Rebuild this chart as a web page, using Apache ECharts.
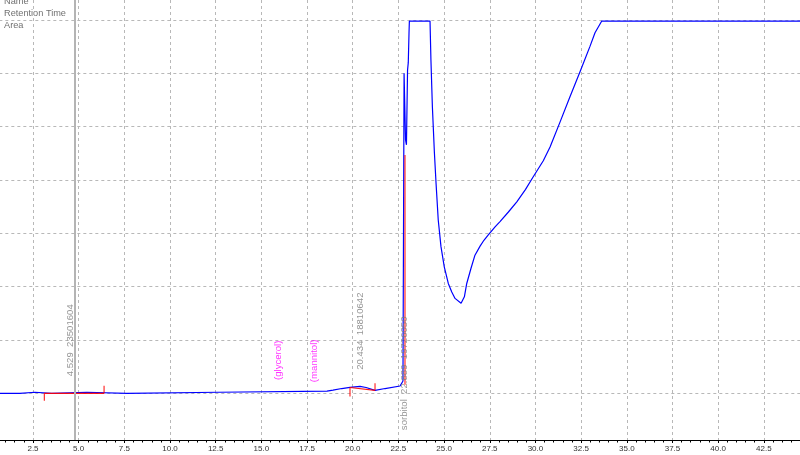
<!DOCTYPE html>
<html><head><meta charset="utf-8">
<script src="https://cdn.jsdelivr.net/npm/echarts@6/dist/echarts.min.js"></script>
<style>html,body{margin:0;padding:0;background:#fff}#c{width:800px;height:455px}</style>
</head><body><div id="c"></div>
<script>
// ---- data ----
const signalTrace = [
  [0.5,0.0],[1.78,0.0],[1.79,0.02],[2.6,0.02],[2.61,0.0],[3.52,0.0],[3.53,0.02],[5.45,0.02],[5.46,0.0],
  [7.63,0.0],[7.64,0.02],[12.67,0.02],[12.68,0.04],[18.59,0.04],[18.92,0.06],[19.4,0.09],[19.85,0.11],
  [20.4,0.13],[20.73,0.11],[21.22,0.056],[21.77,0.09],[22.59,0.137],[22.75,0.23],[22.81,6.0],[22.89,4.75],
  [22.94,4.66],[23.0,6.06],[23.04,6.2],[23.08,6.75],[23.1,6.98],[24.23,6.98],[24.28,6.25],[24.36,5.37],
  [24.47,4.51],[24.56,3.94],[24.68,3.25],[24.83,2.75],[25.01,2.37],[25.23,2.06],[25.42,1.9],[25.6,1.78],
  [25.93,1.69],[26.11,1.81],[26.24,2.06],[26.47,2.34],[26.69,2.59],[26.97,2.76],[27.18,2.87],[27.42,2.97],
  [27.79,3.12],[28.06,3.22],[28.52,3.4],[28.98,3.59],[29.45,3.82],[29.88,4.06],[30.43,4.36],[30.8,4.62],
  [31.35,5.09],[31.89,5.56],[32.44,6.03],[32.99,6.51],[33.26,6.76],[33.63,6.98],[45,6.98]
];
const integrationSegments = [
  [[3.12,0.0],[3.12,-0.14]],
  [[3.12,0.0],[6.39,0.0]],
  [[6.39,0.0],[6.39,0.14]],
  [[19.85,-0.06],[19.85,0.11]],
  [[19.85,0.11],[21.22,0.056]],
  [[21.22,0.056],[21.22,0.19]],
  [[22.86,0.16],[22.86,4.47]]
];
const labelTimes   = [4.525, 20.43, 22.82, 15.91, 17.88];
const labelAnchors = [0.32, 0.44, -0.69, 0.25, 0.21];
const labelTexts   = ['4.529  23501604', '20.434  18810642', 'sorbitol  22.889  19726050', '(glycerol)', '(mannitol)'];
const labelKinds   = ['found', 'found', 'found', 'expected', 'expected'];
const cursorTime   = [4.8];
const yGridValues  = [0, 1, 2, 3, 4, 5, 6, 7];
const headerLines  = ['Name', 'Retention Time', 'Area'];

// ---- chart ----
const FONT = '"Liberation Sans", Arial, sans-serif';
const gridStyle = { color: '#b8b8b8', type: [3, 3], width: 1 };
const chart = echarts.init(document.getElementById('c'), null, { renderer: 'canvas' });

const series = [{
  type: 'line', data: signalTrace, showSymbol: false, animation: false, z: 3,
  lineStyle: { color: '#0000ff', width: 1.2 }, silent: true,
  markLine: {
    silent: true, symbol: 'none', animation: false,
    label: { show: false },
    lineStyle: { color: '#b4b4b4', width: 2, type: 'solid' },
    data: cursorTime.map(t => ({ xAxis: t }))
  }
}];
integrationSegments.forEach(seg => series.push({
  type: 'line', data: seg, showSymbol: false, animation: false, z: 4, silent: true,
  lineStyle: { color: '#ff0000', width: 1.1, opacity: 0.9 }
}));
series.push({
  type: 'scatter', symbolSize: 0, animation: false, z: 5, silent: true,
  data: labelTimes.map((t, i) => ({
    value: [t, labelAnchors[i]],
    label: {
      formatter: labelTexts[i],
      color: labelKinds[i] === 'expected' ? '#ff00ff' : '#7a7a7a'
    }
  })),
  label: {
    show: true, position: 'inside', rotate: 90, align: 'left', verticalAlign: 'middle',
    fontSize: 9.6, fontFamily: FONT
  }
});

chart.setOption({
  animation: false,
  backgroundColor: '#fff',
  grid: { left: -12.68, right: -9.5, top: 0, bottom: 15, containLabel: false, outerBoundsMode: 'none' },
  xAxis: {
    type: 'value', min: 0, max: 45, interval: 2.5,
    axisLine: { show: true, onZero: false, lineStyle: { color: '#000', width: 1 } },
    axisTick: { show: true, length: 3, lineStyle: { color: '#000' } },
    minorTick: { show: true, splitNumber: 5, length: 2.5, lineStyle: { color: '#000' } },
    splitLine: { show: true, lineStyle: gridStyle },
    axisLabel: { formatter: v => v.toFixed(1), fontSize: 8, color: '#333', margin: 5, fontFamily: FONT }
  },
  yAxis: {
    type: 'value', min: -0.875, max: 7.375,
    axisLine: { show: false },
    axisTick: { show: false, customValues: yGridValues },
    axisLabel: { show: false, customValues: yGridValues },
    splitLine: { show: true, lineStyle: gridStyle }
  },
  graphic: headerLines.map((txt, i) => ({
    type: 'text', left: 4, top: -3 + i * 12, silent: true,
    style: { text: txt, fill: '#707070', font: '9.2px ' + FONT }
  })),
  series
});
</script></body></html>
